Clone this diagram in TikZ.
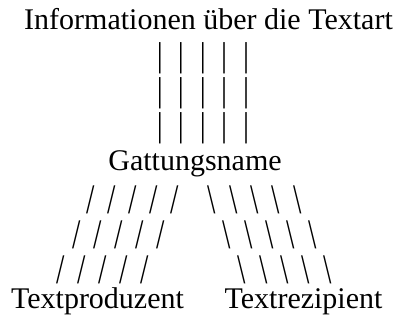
\documentclass[tikz,border=0pt]{standalone}
\usepackage{fontspec}
\setmainfont{Liberation Serif}
\begin{document}
\begin{tikzpicture}[x=1pt,y=1pt,
    term/.style={inner sep=0pt,anchor=base,font=\fontsize{30}{34}\selectfont},
    glyph/.style={inner sep=0pt,font=\fontsize{30}{34}\selectfont,transform shape},
    bar/.style={glyph,yscale=1.15},
    slant/.style={glyph,yscale=1.4}]
    % Fix the page size
    \useasboundingbox (0,0) rectangle (404,320);

    % Place the four terms
    \node[term] (info) at (208.5,290) {Informationen über die Textart};
    \node[term] (gattung) at (195,149) {Gattungsname};
    \node[term] (produzent) at (97.5,11) {Textproduzent};
    \node[term] (rezipient) at (303.5,11) {Textrezipient};

    % Vertical strokes between the title and the genre name
    \foreach \row/\y in {1/262,2/226.5,3/191.5}
        \foreach \col/\x in {1/160,2/181,3/203,4/224,5/246}
            \node[bar] (bar-\row-\col) at (\x,\y) {|};

    % Slashes down to the producer, each row shifted left
    \foreach \row/\x/\y in {1/91/120,2/77/85.5,3/61/50.5}
        \foreach \col in {0,...,4}
            \node[slant] (left-\row-\col) at (\x+21*\col,\y) {/};

    % Backslashes down to the recipient, each row shifted right
    \foreach \row/\x/\y in {1/212/120,2/227/85.5,3/242/50.5}
        \foreach \col in {0,...,4}
            \node[slant] (right-\row-\col) at (\x+21.3*\col,\y) {\textbackslash};
\end{tikzpicture}
\end{document}
